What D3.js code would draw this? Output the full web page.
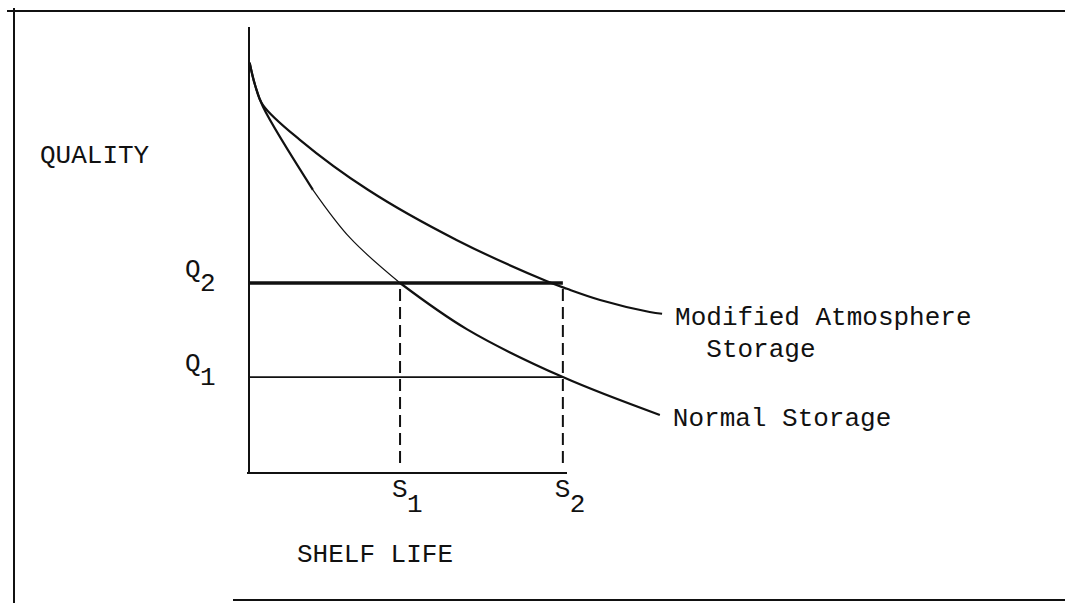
<!DOCTYPE html>
<html>
<head>
<meta charset="utf-8">
<script src="https://cdn.jsdelivr.net/npm/d3@7"></script>
<style>
  body { margin: 0; background: #fff; }
  text { font-family: "Liberation Mono", "DejaVu Sans Mono", monospace; fill: #111; }
</style>
</head>
<body>
<div id="chart"></div>
<script>
const modX = [0.02, 0.19, 0.44, 1.6, 3.74, 6.54, 9.37, 10.0, 11.04, 12.6, 12.99];
const modY = [9.2, 8.7, 8.25, 7.47, 6.35, 5.22, 4.30, 4.13, 3.88, 3.61, 3.57];
const normX = [0.02, 0.19, 0.44, 2.01, 3.18, 4.75, 6.86, 9.87, 12.92];
const normY = [9.2, 8.7, 8.21, 6.35, 5.27, 4.26, 3.22, 2.15, 1.30];
const qLevels = [4.26, 2.15];        // Q2, Q1
const qNames = ["2", "1"];
const sLevels = [4.75, 9.87];        // S1, S2
const sNames = ["1", "2"];
const seriesNames = [["Modified Atmosphere", "  Storage"], ["Normal Storage"]];

const width = 1065;
const height = 603;

const svg = d3.select("#chart")
  .append("svg")
  .attr("width", width)
  .attr("height", height)

// cadre scanné
svg.append("line").attr("x1", 7).attr("x2", 1065).attr("y1", 11).attr("y2", 11)
  .attr("stroke", "#111").attr("stroke-width", 2)
svg.append("line").attr("x1", 14).attr("x2", 14).attr("y1", 8).attr("y2", 603)
  .attr("stroke", "#111").attr("stroke-width", 2)
svg.append("line").attr("x1", 233).attr("x2", 1065).attr("y1", 600).attr("y2", 600)
  .attr("stroke", "#111").attr("stroke-width", 2)

// échelles
const x = d3.scaleLinear().domain([0, 10]).range([249, 567])
const y = d3.scaleLinear().domain([0, 10]).range([473, 27])

// axes (sans graduations)
svg.append("line")
  .attr("x1", x(0)).attr("x2", x(0))
  .attr("y1", y(10)).attr("y2", y(0))
  .attr("stroke", "#111").attr("stroke-width", 2)
svg.append("line")
  .attr("x1", x(0) - 2).attr("x2", x(10))
  .attr("y1", y(0)).attr("y2", y(0))
  .attr("stroke", "#111").attr("stroke-width", 2)

// lignes Q
svg.selectAll("line.q").data(qLevels).enter()
  .append("line")
  .attr("class", "q")
  .attr("x1", x(0))
  .attr("x2", x(sLevels[1]))
  .attr("y1", d => y(d))
  .attr("y2", d => y(d))
  .attr("stroke", "#111")
  .attr("stroke-width", (d, i) => i == 0 ? 3.5 : 1.6)

// tirets S
svg.selectAll("line.s").data(sLevels).enter()
  .append("line")
  .attr("class", "s")
  .attr("x1", d => x(d))
  .attr("x2", d => x(d))
  .attr("y1", y(qLevels[0]) + 6)
  .attr("y2", y(0) - 10)
  .attr("stroke", "#111")
  .attr("stroke-width", 2)
  .attr("stroke-dasharray", "12,6")

// courbes
const line = d3.line()
  .x(d => x(d[0]))
  .y(d => y(d[1]))
  .curve(d3.curveCatmullRom.alpha(0.5))

const modPts = modX.map((v, i) => [v, modY[i]])
const normPts = normX.map((v, i) => [v, normY[i]])

svg.append("path")
  .attr("d", line(modPts))
  .attr("fill", "none")
  .attr("stroke", "#111")
  .attr("stroke-width", 2.2)

// la courbe normale est fine avant S1, plus épaisse ailleurs
const cut = normX.indexOf(sLevels[0])
svg.append("path")
  .attr("d", line(normPts.slice(0, 4)))
  .attr("fill", "none")
  .attr("stroke", "#111")
  .attr("stroke-width", 2.2)
svg.append("path")
  .attr("d", line(normPts.slice(3, cut + 1)))
  .attr("fill", "none")
  .attr("stroke", "#111")
  .attr("stroke-width", 1.2)
svg.append("path")
  .attr("d", line(normPts.slice(cut)))
  .attr("fill", "none")
  .attr("stroke", "#111")
  .attr("stroke-width", 2.2)

// étiquettes Q
const qLab = svg.selectAll("g.qlab").data(qLevels).enter()
  .append("g").attr("class", "qlab")
qLab.append("text")
  .attr("x", x(0) - 64)
  .attr("y", d => y(d) - 6)
  .attr("font-size", "26px")
  .text("Q")
qLab.append("text")
  .attr("x", x(0) - 49)
  .attr("y", d => y(d) + 8)
  .attr("font-size", "26px")
  .text((d, i) => qNames[i])

// étiquettes S
const sLab = svg.selectAll("g.slab").data(sLevels).enter()
  .append("g").attr("class", "slab")
sLab.append("text")
  .attr("x", d => x(d) - 8)
  .attr("y", y(0) + 24)
  .attr("font-size", "26px")
  .text("S")
sLab.append("text")
  .attr("x", d => x(d) + 7)
  .attr("y", y(0) + 39)
  .attr("font-size", "26px")
  .text((d, i) => sNames[i])

// titres des axes
svg.append("text")
  .attr("x", 40)
  .attr("y", 163)
  .attr("font-size", "26px")
  .text("QUALITY")
svg.append("text")
  .attr("x", 297)
  .attr("y", 562)
  .attr("font-size", "26px")
  .text("SHELF LIFE")

// noms des courbes
const ends = [modPts[modPts.length - 1], normPts[normPts.length - 1]]
seriesNames.forEach(function(lines, k){
  lines.forEach(function(t, j){
    svg.append("text")
      .attr("x", x(ends[k][0]) + 13)
      .attr("y", y(ends[k][1]) + 11 + j * 32)
      .attr("font-size", "26px")
      .attr("xml:space", "preserve")
      .style("white-space", "pre")
      .text(t)
  })
})
</script>
</body>
</html>
